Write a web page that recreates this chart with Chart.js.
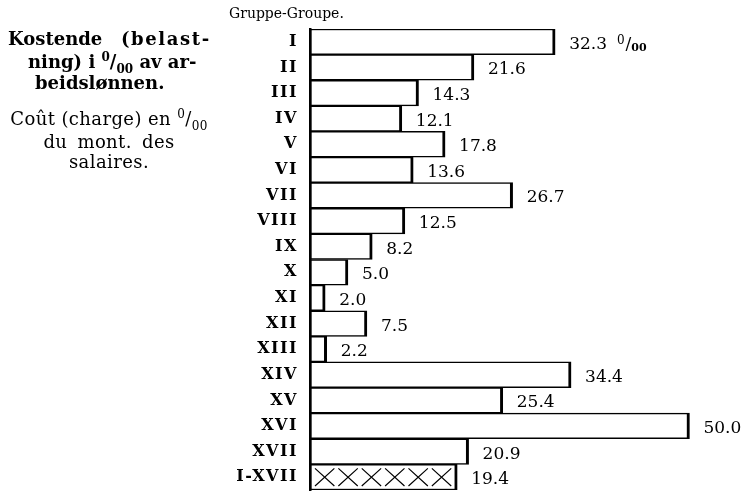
<!DOCTYPE html>
<html><head><meta charset="utf-8">
<script src="https://cdn.jsdelivr.net/npm/chart.js@4.4.0/dist/chart.umd.min.js"></script>
<style>
html,body{margin:0;padding:0;background:#fff;}
#wrap{position:relative;width:743px;height:493px;}
canvas{position:absolute;left:0;top:0;}
.t{position:absolute;font-family:"DejaVu Serif",serif;color:#000;white-space:nowrap;line-height:21px;}
.b{font-weight:bold;font-size:18px;}
.n{font-size:18px;width:218px;text-align:center;left:0;letter-spacing:0.4px;}
sup,sub{font-size:12px;line-height:0;}
</style></head><body>
<div id="wrap">
<canvas id="c" width="743" height="493"></canvas>
<div class="t b" style="left:8px;top:28px;">Kostende</div>
<div class="t b" style="left:121px;top:28px;letter-spacing:1.6px;">(belast-</div>
<div class="t b" style="left:28px;top:51px;">ning) i <sup>0</sup>/<sub>00</sub> av ar-</div>
<div class="t b" style="left:35px;top:72px;">beidslønnen.</div>
<div class="t n" style="top:108px;">Coût (charge) en <sup>0</sup>/<sub>00</sub></div>
<div class="t n" style="top:131px;word-spacing:4px;">du mont. des</div>
<div class="t n" style="top:151px;">salaires.</div>
<div class="t" style="left:229px;top:3px;font-size:14px;">Gruppe-Groupe.</div>
</div>
<script>
const categories = ["I","II","III","IV","V","VI","VII","VIII","IX","X","XI","XII","XIII","XIV","XV","XVI","XVII","I-XVII"];
const values = [32.3,21.6,14.3,12.1,17.8,13.6,26.7,12.5,8.2,5.0,2.0,7.5,2.2,34.4,25.4,50.0,20.9,19.4];
const valueLabels = ["32.3","21.6","14.3","12.1","17.8","13.6","26.7","12.5","8.2","5.0","2.0","7.5","2.2","34.4","25.4","50.0","20.9","19.4"];
const unitLabel = ["0","/","00"];

const spacingPlugin = {
  id:'spacing',
  beforeDraw(chart){ chart.ctx.letterSpacing = '1.5px'; }
};

const labelPlugin = {
  id:'vals',
  afterDatasetsDraw(chart){
    const ctx = chart.ctx;
    const meta = chart.getDatasetMeta(0);
    ctx.save();
    ctx.letterSpacing = '0px';
    const last = meta.data[meta.data.length-1];
    {
      const x0 = last.base + 3, x1 = last.x - 4;
      const h = last.height;
      const y0 = last.y - h/2 + 4, y1 = last.y + h/2 - 4;
      const n = Math.max(1, Math.round((x1-x0)/23));
      const w = (x1-x0)/n;
      ctx.strokeStyle = '#000'; ctx.lineWidth = 1.2;
      for(let i=0;i<n;i++){
        const a = x0 + i*w + 2, b = x0 + (i+1)*w - 2;
        ctx.beginPath();
        ctx.moveTo(a,y0); ctx.lineTo(b,y1);
        ctx.moveTo(b,y0); ctx.lineTo(a,y1);
        ctx.stroke();
      }
    }
    ctx.fillStyle = '#000';
    ctx.textAlign = 'left';
    ctx.textBaseline = 'alphabetic';
    meta.data.forEach((bar,i)=>{
      ctx.font = '17px "DejaVu Serif", serif';
      const bx = bar.x + 14, by = bar.y + 7;
      ctx.fillText(valueLabels[i], bx, by);
      if(i===0){
        let x = bx + ctx.measureText(valueLabels[i]).width + 10;
        ctx.font = '12px "DejaVu Serif", serif';
        ctx.fillText(unitLabel[0], x, by - 5);
        x += ctx.measureText(unitLabel[0]).width + 1;
        ctx.font = '17px "DejaVu Serif", serif';
        ctx.fillText(unitLabel[1], x, by);
        x += ctx.measureText(unitLabel[1]).width;
        ctx.font = 'bold 11px "DejaVu Serif", serif';
        ctx.fillText(unitLabel[2], x, by + 2);
      }
    });
    ctx.restore();
  }
};

new Chart(document.getElementById('c'), {
  type:'bar',
  data:{labels:categories, datasets:[{
    data:values,
    backgroundColor:'#fff',
    borderColor:'#000',
    borderWidth:{left:2,right:3,top:1.5,bottom:1.5},
    borderSkipped:false,
    categoryPercentage:1, barPercentage:1
  }]},
  options:{
    indexAxis:'y',
    responsive:false, animation:false,
    layout:{padding:{top:29,bottom:3,left:0,right:8}},
    plugins:{legend:{display:false},tooltip:{enabled:false}},
    scales:{
      x:{display:false,min:0,max:56},
      y:{
        grid:{display:false,drawTicks:false},
        border:{display:true,color:'#000',width:2.5},
        ticks:{color:'#000',padding:12,font:{family:'"DejaVu Serif", serif',size:16,weight:'bold'}},
        afterFit(s){ s.width = 310; s.paddingTop = 0; s.paddingBottom = 0; }
      }
    }
  },
  plugins:[spacingPlugin,labelPlugin]
});
</script>
</body></html>
